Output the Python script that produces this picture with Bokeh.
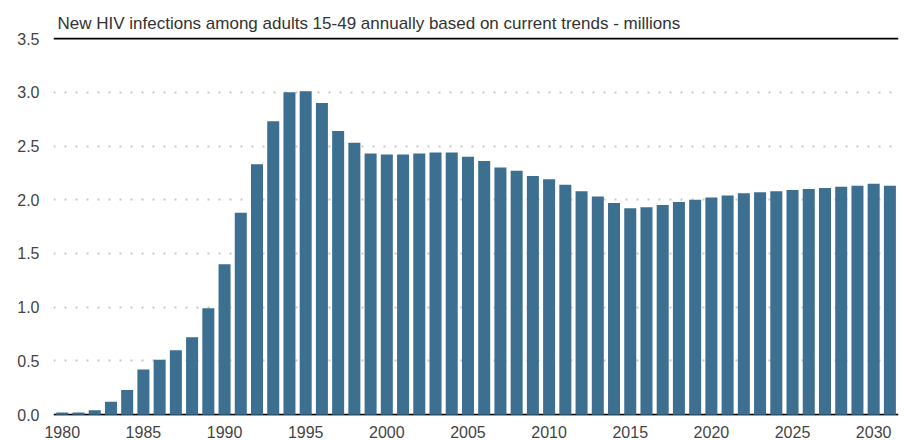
from bokeh.plotting import figure
from bokeh.models import Range1d, FixedTicker, Span, PrintfTickFormatter, ColumnDataSource
from bokeh.embed import file_html
from bokeh.resources import INLINE

years = list(range(1980, 2032))
infections = [0.02, 0.02, 0.04, 0.12, 0.23, 0.42, 0.51, 0.60, 0.72, 0.99,
              1.40, 1.88, 2.33, 2.73, 3.00, 3.01, 2.90, 2.64, 2.53, 2.43,
              2.42, 2.42, 2.43, 2.44, 2.44, 2.40, 2.36, 2.30, 2.27, 2.22,
              2.19, 2.14, 2.08, 2.03, 1.97, 1.92, 1.93, 1.95, 1.98, 2.00,
              2.02, 2.04, 2.06, 2.07, 2.08, 2.09, 2.10, 2.11, 2.12, 2.13,
              2.15, 2.13]
x_ticks = [1980, 1985, 1990, 1995, 2000, 2005, 2010, 2015, 2020, 2025, 2030]
y_ticks = [0.0, 0.5, 1.0, 1.5, 2.0, 2.5, 3.0, 3.5]
title_text = "New HIV infections among adults 15-49 annually based on current trends - millions"

FONT = "Liberation Sans"
BAR = "#3d6f91"

src = ColumnDataSource(dict(year=years, value=infections))

p = figure(width=906, height=440, output_backend="svg", toolbar_location=None,
           x_range=Range1d(1979.46, 2031.53), y_range=Range1d(-0.008, 3.51),
           min_border_left=53, min_border_right=8, min_border_top=37, min_border_bottom=25)
p.outline_line_color = None
p.background_fill_color = "white"

p.title.text = title_text
p.title.align = "left"
p.title.offset = 4
p.title.text_font = FONT
p.title.text_font_size = "17px"
p.title.text_font_style = "normal"
p.title.text_color = "#333333"
p.title.standoff = 9

# baseline under the bars
p.add_layout(Span(location=0, dimension="width", line_color="black", line_width=2, level="underlay"))

p.vbar(x="year", top="value", bottom=0, width=0.74, source=src,
       fill_color=BAR, line_color=None)

p.add_layout(Span(location=3.5, dimension="width", line_color="black", line_width=2))

p.xgrid.grid_line_color = None
p.ygrid.ticker = FixedTicker(ticks=[0.5, 1.0, 1.5, 2.0, 2.5, 3.0])
p.ygrid.grid_line_color = "#c8c8c8"
p.ygrid.grid_line_width = 2
p.ygrid.grid_line_dash = "2 9"

p.xaxis.ticker = FixedTicker(ticks=x_ticks)
p.yaxis.ticker = FixedTicker(ticks=y_ticks)
p.yaxis.formatter = PrintfTickFormatter(format="%.1f")
for ax in (p.xaxis, p.yaxis):
    ax.axis_line_color = None
    ax.major_tick_line_color = None
    ax.minor_tick_line_color = None
    ax.major_label_text_font = FONT
    ax.major_label_text_font_size = "16px"
    ax.major_label_text_color = "#444444"
p.xaxis.major_label_standoff = 4
p.yaxis.major_label_standoff = 8

open("out.html", "w").write(file_html(p, INLINE))
